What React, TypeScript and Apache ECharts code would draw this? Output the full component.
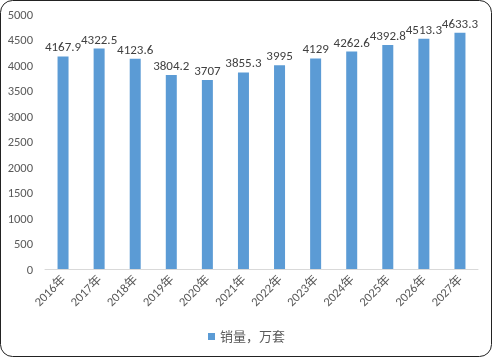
import React, { useEffect, useRef } from "react";
import * as echarts from "echarts";

const categories = ["2016年", "2017年", "2018年", "2019年", "2020年", "2021年", "2022年", "2023年", "2024年", "2025年", "2026年", "2027年"];
const salesValues = [4167.9, 4322.5, 4123.6, 3804.2, 3707, 3855.3, 3995, 4129, 4262.6, 4392.8, 4513.3, 4633.3];
const seriesName = "销量，万套";

export default function App() {
  const ref = useRef<HTMLDivElement>(null);
  useEffect(() => {
    if (!ref.current) return;
    const chart = echarts.init(ref.current, null, { renderer: "svg" });
    const font = "Carlito, 'Liberation Sans', 'Noto Sans CJK SC', sans-serif";
    chart.setOption({
      animation: false,
      textStyle: { fontFamily: font },
      graphic: [
        {
          type: "rect",
          shape: { x: 0.5, y: 0.5, width: 491, height: 356, r: 12 },
          style: { fill: "none", stroke: "#222", lineWidth: 1 },
          silent: true,
        },
      ],
      grid: { left: 45, right: 15, top: 14, bottom: 89, containLabel: false },
      legend: {
        bottom: 10,
        left: "center",
        itemWidth: 7,
        itemHeight: 7,
        itemGap: 4,
        icon: "rect",
        textStyle: { color: "#595959", fontSize: 13, fontFamily: font },
        data: [seriesName],
      },
      xAxis: {
        type: "category",
        data: categories,
        axisLine: { lineStyle: { color: "#d9d9d9" } },
        axisTick: { show: false },
        axisLabel: { rotate: 45, color: "#595959", fontSize: 12.5, margin: 8, interval: 0 },
      },
      yAxis: {
        type: "value",
        min: 0,
        max: 5000,
        interval: 500,
        splitLine: { show: false },
        axisLine: { show: false },
        axisTick: { show: false },
        axisLabel: { color: "#595959", fontSize: 12.5, margin: 12, formatter: (v: number) => String(v) },
      },
      series: [
        {
          name: seriesName,
          type: "bar",
          data: salesValues,
          barWidth: 11,
          itemStyle: { color: "#5B9BD5" },
          label: { show: true, position: "top", color: "#404040", fontSize: 13, distance: 3 },
        },
      ],
    });
    return () => chart.dispose();
  }, []);
  return <div ref={ref} style={{ position: "fixed", left: 0, top: 0, width: 493, height: 358 }} />;
}
